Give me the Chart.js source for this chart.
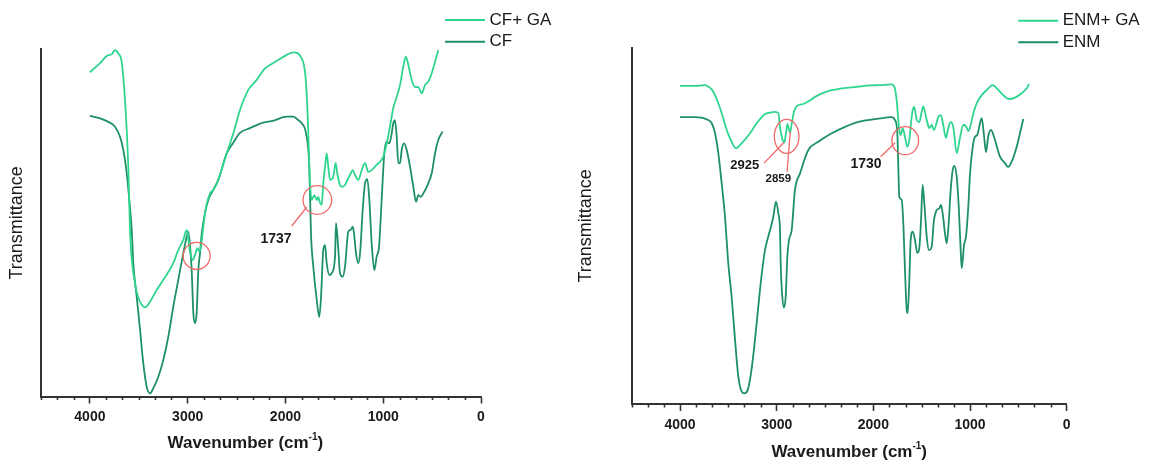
<!DOCTYPE html>
<html>
<head>
<meta charset="utf-8">
<script src="https://cdn.jsdelivr.net/npm/chart.js@4.4.1/dist/chart.umd.min.js"></script>
<style>
  html, body { margin: 0; padding: 0; background: #fff; }
  canvas { position: absolute; top: 0; }
  #cfChart { left: 0; }
  #enmChart { left: 575px; }
</style>
</head>
<body>
<canvas id="cfChart" width="575" height="461"></canvas>
<canvas id="enmChart" width="575" height="461"></canvas>
<script>
// FTIR spectra, [wavenumber cm-1, transmittance a.u.]
const cfGa = [
  [4000, 93.4], [3896, 96.0], [3828, 98.1], [3777, 98.6], [3743, 99.8], [3709, 98.8], [3675, 96.4],
  [3641, 85.4], [3607, 66.2], [3590, 48.0], [3539, 32.7], [3487, 27.3], [3436, 25.7], [3385, 27.3],
  [3317, 30.7], [3249, 33.6], [3147, 38.4], [3096, 42.2], [3045, 45.1], [3010, 48.0], [2976, 41.7],
  [2948, 39.3], [2925, 40.8], [2901, 42.7], [2881, 41.7], [2864, 43.1], [2840, 48.9], [2812, 54.7],
  [2771, 58.5], [2738, 59.5], [2687, 62.4], [2601, 70.0], [2533, 75.8], [2465, 82.5], [2380, 88.3],
  [2294, 91.2], [2209, 94.5], [2158, 95.5], [2073, 96.9], [1987, 98.4], [1920, 99.1], [1834, 97.4],
  [1800, 93.5], [1783, 87.3], [1766, 75.8], [1756, 66.2], [1749, 61.4], [1731, 56.6], [1705, 58.0],
  [1680, 56.6], [1664, 57.5], [1647, 55.8], [1629, 55.2], [1613, 61.4], [1595, 66.2], [1578, 70.0],
  [1562, 66.2], [1544, 62.4], [1511, 63.3], [1486, 67.3], [1470, 64.3], [1442, 60.9], [1425, 60.4],
  [1391, 60.9], [1374, 61.9], [1340, 63.8], [1312, 65.2], [1289, 63.8], [1255, 62.4], [1220, 65.2],
  [1186, 67.2], [1153, 64.7], [1118, 65.2], [1067, 66.7], [1033, 67.6], [999, 69.1], [964, 72.9],
  [931, 77.7], [897, 83.1], [862, 86.3], [828, 89.7], [795, 95.0], [770, 97.9], [743, 95.5],
  [709, 91.2], [675, 89.2], [641, 89.1], [606, 87.3], [573, 89.7], [539, 90.7], [504, 93.1],
  [470, 96.4], [437, 99.8]
];
const cf = [
  [4000, 80.8], [3896, 80.1], [3812, 79.1], [3743, 77.7], [3692, 74.8], [3658, 71.0], [3623, 64.3],
  [3597, 56.6], [3572, 48.0], [3556, 38.4], [3521, 28.7], [3487, 19.2], [3454, 9.6], [3419, 2.8],
  [3385, 0.9], [3351, 2.4], [3300, 5.7], [3249, 10.5], [3198, 17.2], [3147, 25.9], [3096, 33.6],
  [3045, 41.2], [3010, 46.0], [2993, 47.5], [2959, 36.4], [2942, 24.0], [2925, 21.1], [2908, 24.0],
  [2891, 36.4], [2874, 41.2], [2856, 47.0], [2823, 52.8], [2789, 56.6], [2738, 59.5], [2687, 62.4],
  [2601, 70.0], [2536, 73.0], [2465, 75.9], [2362, 77.3], [2229, 78.9], [2127, 79.4], [1987, 80.6],
  [1920, 80.6], [1868, 79.6], [1834, 78.7], [1790, 75.8], [1756, 66.2], [1739, 47.0], [1715, 37.4],
  [1680, 27.8], [1654, 22.9], [1636, 28.7], [1613, 42.2], [1595, 43.6], [1578, 38.4], [1551, 35.0],
  [1527, 35.5], [1493, 40.3], [1483, 49.9], [1459, 42.2], [1442, 35.5], [1414, 34.5], [1391, 37.4],
  [1357, 47.5], [1333, 48.0], [1312, 48.9], [1299, 47.0], [1278, 41.2], [1255, 38.4], [1237, 41.2],
  [1210, 53.7], [1186, 61.4], [1163, 62.6], [1142, 56.6], [1118, 44.1], [1091, 36.4], [1067, 40.3],
  [1043, 43.1], [1016, 56.6], [989, 70.0], [964, 73.4], [938, 72.9], [913, 75.8], [897, 78.7],
  [880, 79.6], [862, 74.8], [846, 67.2], [828, 67.2], [811, 71.0], [787, 72.9], [760, 71.0],
  [726, 66.2], [692, 60.4], [665, 56.1], [641, 58.0], [617, 57.5], [590, 58.5], [555, 60.4],
  [504, 64.3], [470, 70.0], [437, 73.9], [392, 76.3]
];
const enmGa = [
  [4000, 89.3], [3915, 89.3], [3811, 89.3], [3742, 89.5], [3708, 89.1], [3672, 88.3], [3638, 86.7],
  [3604, 84.4], [3569, 81.6], [3517, 76.9], [3466, 73.6], [3421, 71.8], [3362, 73.2], [3276, 76.0],
  [3207, 78.8], [3121, 81.4], [3069, 81.8], [3018, 82.0], [2983, 81.6], [2966, 77.8], [2938, 74.1],
  [2921, 73.4], [2904, 76.0], [2890, 78.6], [2876, 77.4], [2862, 76.1], [2845, 78.6], [2821, 82.0],
  [2793, 83.6], [2725, 84.2], [2656, 85.2], [2604, 86.2], [2483, 87.7], [2345, 88.5], [2172, 89.0],
  [2035, 89.4], [1931, 89.5], [1810, 89.7], [1783, 89.1], [1759, 85.3], [1742, 79.7], [1732, 76.9],
  [1717, 75.5], [1697, 77.4], [1673, 75.0], [1649, 72.2], [1628, 74.1], [1611, 78.8], [1593, 82.5],
  [1577, 83.4], [1552, 79.7], [1525, 79.1], [1500, 82.0], [1483, 83.5], [1448, 79.7], [1421, 77.4],
  [1397, 78.3], [1373, 76.9], [1328, 80.6], [1303, 81.1], [1277, 78.3], [1249, 74.7], [1225, 77.5],
  [1200, 79.1], [1173, 77.7], [1138, 70.4], [1104, 74.7], [1070, 78.3], [1042, 78.0], [1018, 76.6],
  [993, 78.3], [966, 81.6], [931, 84.4], [879, 86.7], [828, 88.1], [766, 89.5], [724, 88.6],
  [656, 86.7], [597, 85.6], [535, 86.0], [466, 87.2], [414, 88.6], [390, 89.8]
];
const enm = [
  [4000, 80.5], [3845, 80.5], [3724, 79.9], [3672, 78.8], [3638, 76.0], [3604, 70.4], [3569, 61.9],
  [3535, 52.6], [3501, 39.5], [3466, 30.1], [3431, 18.0], [3397, 7.7], [3362, 3.5], [3335, 3.0],
  [3300, 3.9], [3266, 8.6], [3232, 16.1], [3197, 25.5], [3162, 34.8], [3121, 43.2], [3087, 47.0],
  [3052, 50.5], [3035, 52.6], [3007, 56.8], [2983, 53.5], [2966, 48.8], [2959, 39.5], [2942, 30.1],
  [2925, 27.1], [2907, 30.1], [2890, 41.3], [2873, 46.0], [2845, 48.8], [2811, 60.1], [2759, 64.7],
  [2673, 71.3], [2570, 73.6], [2431, 76.0], [2293, 77.8], [2156, 79.2], [1966, 80.0], [1810, 80.5],
  [1776, 79.7], [1752, 76.0], [1742, 66.6], [1732, 58.2], [1707, 57.3], [1690, 50.7], [1673, 37.6],
  [1655, 26.4], [1645, 25.5], [1628, 34.8], [1614, 46.0], [1593, 48.4], [1569, 46.0], [1546, 42.4],
  [1525, 43.7], [1507, 51.6], [1490, 61.5], [1473, 56.3], [1448, 47.0], [1425, 43.2], [1397, 44.1],
  [1373, 51.6], [1345, 54.4], [1318, 54.9], [1300, 55.9], [1283, 53.5], [1259, 47.9], [1241, 45.1],
  [1221, 50.7], [1200, 60.1], [1179, 65.7], [1163, 66.8], [1138, 63.8], [1117, 55.4], [1097, 43.2],
  [1086, 38.1], [1062, 44.6], [1042, 46.9], [1018, 55.4], [1000, 64.7], [972, 72.2], [949, 75.0],
  [925, 75.5], [897, 78.8], [879, 80.2], [856, 75.5], [835, 70.7], [811, 75.2], [783, 76.9],
  [742, 74.1], [690, 69.4], [638, 67.6], [607, 66.5], [569, 68.0], [517, 72.2], [483, 76.0],
  [449, 80.0]
];

const cfLabels = ['CF+ GA', 'CF'];
const enmLabels = ['ENM+ GA', 'ENM'];
const cfPeaks = [1737];
const enmPeaks = [2925, 2859, 1730];
const majorTicks = [0, 1000, 2000, 3000, 4000];

const LIGHT = '#2fd58f';
const DARK = '#1d9065';
const INK = '#1a1a1a';
const AXIS = '#333';
const MARK = 'rgb(240, 105, 105)';
const FONT = '"Liberation Sans", Arial, sans-serif';

const toXY = pts => pts.map(([x, y]) => ({ x, y }));

// legend drawn as short line + label, stacked top right of each panel
const lineLegend = {
  id: 'lineLegend',
  afterDraw(chart, args, o) {
    const ctx = chart.ctx;
    ctx.save();
    ctx.font = '17px ' + FONT;
    ctx.textBaseline = 'middle';
    ctx.textAlign = 'left';
    chart.data.datasets.forEach((ds, i) => {
      const y = o.top + i * o.rowGap;
      ctx.strokeStyle = ds.borderColor;
      ctx.lineWidth = 2;
      ctx.beginPath();
      ctx.moveTo(o.left, y);
      ctx.lineTo(o.left + o.lineLength, y);
      ctx.stroke();
      ctx.fillStyle = INK;
      ctx.fillText(ds.label, o.left + o.lineLength + o.gap, y);
    });
    ctx.restore();
  }
};

// short minor ticks, six per thousand
const minorTicks = {
  id: 'minorTicks',
  afterDraw(chart, args, o) {
    const { ctx, chartArea } = chart;
    const xs = chart.scales.x;
    ctx.save();
    ctx.strokeStyle = AXIS;
    ctx.lineWidth = 1.6;
    for (let i = 0; i * o.step <= xs.max + 1e-6; i++) {
      if (i % 6 === 0) continue;
      const px = Math.round(xs.getPixelForValue(i * o.step)) + 0.5;
      ctx.beginPath();
      ctx.moveTo(px, chartArea.bottom);
      ctx.lineTo(px, chartArea.bottom + o.length);
      ctx.stroke();
    }
    ctx.restore();
  }
};

// x title with superscript unit
const wavenumberCaption = {
  id: 'wavenumberCaption',
  afterDraw(chart, args, o) {
    const { ctx, chartArea } = chart;
    const big = 'bold 17px ' + FONT;
    const small = 'bold 10px ' + FONT;
    const parts = [['Wavenumber (cm', big, 0], ['-1', small, -8], [')', big, 0]];
    ctx.save();
    ctx.fillStyle = INK;
    ctx.textAlign = 'left';
    ctx.textBaseline = 'alphabetic';
    let total = 0;
    parts.forEach(p => { ctx.font = p[1]; total += ctx.measureText(p[0]).width; });
    let x = chart.scales.x.getPixelForValue(o.center) - total / 2;
    const y = chartArea.bottom + o.offset;
    parts.forEach(([t, f, dy]) => {
      ctx.font = f;
      ctx.fillText(t, x, y + dy);
      x += ctx.measureText(t).width;
    });
    ctx.restore();
  }
};

// red circles, leader lines and peak labels, placed in data units
const peakMarks = {
  id: 'peakMarks',
  afterDatasetsDraw(chart, args, o) {
    const { ctx } = chart;
    const xs = chart.scales.x, ys = chart.scales.y;
    const px = v => xs.getPixelForValue(v), py = v => ys.getPixelForValue(v);
    ctx.save();
    ctx.strokeStyle = MARK;
    ctx.lineWidth = 1.3;
    o.circles.forEach(c => {
      ctx.beginPath();
      ctx.ellipse(px(c.x), py(c.y), c.rx, c.ry, 0, 0, Math.PI * 2);
      ctx.stroke();
    });
    o.leaders.forEach(l => {
      ctx.beginPath();
      ctx.moveTo(px(l.from[0]), py(l.from[1]));
      ctx.lineTo(px(l.to[0]), py(l.to[1]));
      ctx.stroke();
    });
    ctx.fillStyle = INK;
    ctx.textAlign = 'center';
    ctx.textBaseline = 'middle';
    o.labels.forEach(t => {
      ctx.font = 'bold ' + t.size + 'px ' + FONT;
      ctx.fillText(t.text, px(t.x), py(t.y));
    });
    ctx.restore();
  }
};

function spectrumChart(canvasId, series, labels, box, extra) {
  return new Chart(document.getElementById(canvasId), {
    type: 'line',
    data: {
      datasets: series.map((s, i) => ({
        label: labels[i],
        data: toXY(s),
        borderColor: i === 0 ? LIGHT : DARK,
        borderWidth: 1.8,
        pointRadius: 0,
        fill: false,
        cubicInterpolationMode: 'monotone'
      }))
    },
    options: {
      responsive: false,
      animation: false,
      devicePixelRatio: 1,
      events: [],
      layout: { padding: { top: box.top, right: box.right, bottom: 0, left: 0 } },
      scales: {
        x: {
          type: 'linear',
          min: 0,
          max: 4500,
          reverse: true,
          afterFit: s => { s.height = box.xHeight; },
          afterBuildTicks: s => { s.ticks = majorTicks.map(v => ({ value: v })); },
          ticks: {
            callback: v => String(v),
            color: INK,
            font: { family: FONT, size: 14, weight: 'bold' },
            padding: 5.5,
            maxRotation: 0,
            autoSkip: false
          },
          grid: {
            drawOnChartArea: false,
            tickLength: 7,
            tickWidth: 1.6,
            tickColor: AXIS
          },
          border: { color: AXIS, width: 2 }
        },
        y: {
          min: 0,
          max: 100,
          afterFit: s => { s.width = box.yWidth; },
          ticks: { display: false },
          grid: { display: false },
          border: { color: AXIS, width: 2 },
          title: {
            display: true,
            text: 'Transmittance',
            color: INK,
            font: { family: FONT, size: 18 },
            padding: { top: box.titlePad, bottom: 0 }
          }
        }
      },
      plugins: {
        legend: { display: false },
        tooltip: { enabled: false },
        lineLegend: extra.legend,
        minorTicks: { step: 1000 / 6, length: 3.5 },
        wavenumberCaption: extra.caption,
        peakMarks: extra.marks
      }
    },
    plugins: [lineLegend, minorTicks, wavenumberCaption, peakMarks]
  });
}

spectrumChart('cfChart', [cfGa, cf], cfLabels,
  { top: 49.3, right: 94, xHeight: 64.5, yWidth: 41, titlePad: 6 },
  {
    legend: { left: 445, top: 20, rowGap: 21.7, lineLength: 40, gap: 4.5 },
    caption: { center: 2410, offset: 51.5 },
    marks: {
      circles: [{ x: 2908, y: 40.5, rx: 13.5, ry: 13.5 }, { x: 1674, y: 56.6, rx: 14.3, ry: 14.3 }],
      leaders: [{ from: [1936, 49.1], to: [1783, 54.5] }],
      labels: [{ text: String(cfPeaks[0]), x: 2097, y: 45.3, size: 14 }]
    }
  });

spectrumChart('enmChart', [enmGa, enm], enmLabels,
  { top: 47.7, right: 83.3, xHeight: 57, yWidth: 56.7, titlePad: 0 },
  {
    legend: { left: 443.3, top: 20.7, rowGap: 21.6, lineLength: 40, gap: 4.4 },
    caption: { center: 2250, offset: 52.5 },
    marks: {
      circles: [{ x: 2897, y: 75.1, rx: 12.3, ry: 17 }, { x: 1670, y: 73.9, rx: 13.3, ry: 14 }],
      leaders: [
        { from: [3131, 67.6], to: [enmPeaks[0], 73.4] },
        { from: [2893, 65.2], to: [enmPeaks[1], 76.4] },
        { from: [1924, 69.4], to: [1776, 73.3] }
      ],
      labels: [
        { text: String(enmPeaks[0]), x: 3331, y: 66.9, size: 13 },
        { text: String(enmPeaks[1]), x: 2983, y: 63.1, size: 11.5 },
        { text: String(enmPeaks[2]), x: 2076, y: 67.4, size: 14 }
      ]
    }
  });
</script>
</body>
</html>
